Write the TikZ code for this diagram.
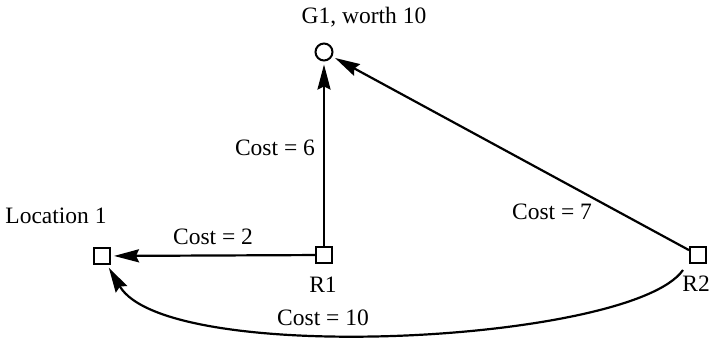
\documentclass[tikz,border=0pt]{standalone}
\usepackage{fontspec}
\setmainfont{Liberation Serif}
\usetikzlibrary{arrows.meta,positioning}
\tikzset{
  site/.style  = {draw, line width=2pt, fill=white, minimum size=16pt, inner sep=0pt},
  goal/.style  = {circle, draw, line width=2pt, fill=white, minimum size=17pt, inner sep=0pt},
  cost/.style  = {-{Stealth[length=25pt, width=13pt, inset=3pt]}, line width=2.2pt, shorten >=3pt},
  lbl/.style   = {font=\fontsize{23.5}{28}\selectfont, inner sep=0pt},
}
\begin{document}
\begin{tikzpicture}[x=1pt,y=-1pt]
  \useasboundingbox (0,0) rectangle (711,339);
  % places
  \node[goal] (g1)  at (324,52)  {};
  \node[site] (r1)  at (324,255) {};
  \node[site] (loc) at (102,256) {};
  \node[site] (r2)  at (698,255) {};
  \coordinate (r2out) at (683,270);
  % names
  \node[lbl] (g1name)  at (364,17)  {G1, worth 10};
  \node[lbl] (locname) at (56,216)  {Location 1};
  \node[lbl] (r1name)  at (323,285) {R1};
  \node[lbl, anchor=east] (r2name) at (710,284) {R2};
  % costs
  \draw[cost] (r1) -- node[lbl, above=10pt] (c2) {Cost = 2} (loc);
  \draw[cost] (r1) -- node[lbl, left=8pt, yshift=6pt] (c6) {Cost = 6} (g1);
  \draw[cost] (r2) -- (g1);
  \node[lbl] (c7) at (552,212) {Cost = 7};
  \draw[cost] (r2out) .. controls (632,343) and (167,367) .. (loc);
  \node[lbl] (c10) at (323,318) {Cost = 10};
\end{tikzpicture}
\end{document}
